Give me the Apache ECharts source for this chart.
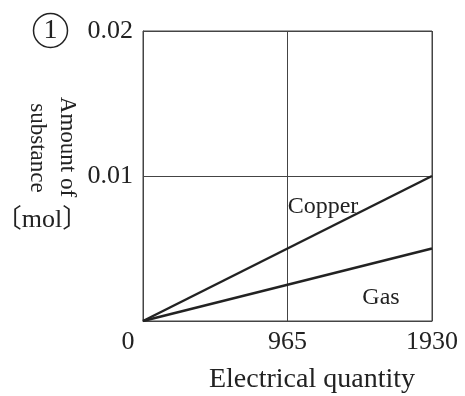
<!DOCTYPE html>
<html>
<head>
<meta charset="utf-8">
<script src="https://cdn.jsdelivr.net/npm/echarts@6/dist/echarts.min.js"></script>
<style>
html,body{margin:0;padding:0;background:#fff;}
#chart{width:465px;height:396px;}
</style>
</head>
<body>
<div id="chart"></div>
<script>
const xTicks = [0, 965, 1930];
const yTicks = [0, 0.01, 0.02];
const copperData = [[0, 0], [1930, 0.01]];
const gasData = [[0, 0], [1930, 0.005]];
const seriesNames = ['Copper', 'Gas'];

const FONT = "'Liberation Serif', 'Noto Sans CJK JP', serif";
const INK = '#222';

const chart = echarts.init(document.getElementById('chart'));
chart.setOption({
  animation: false,
  backgroundColor: '#fff',
  grid: { left: 143, right: 33, top: 31, bottom: 75, show: true, borderColor: '#444', borderWidth: 1 },
  xAxis: {
    type: 'value', min: xTicks[0], max: xTicks[2], interval: xTicks[1] - xTicks[0],
    axisLine: { show: true, lineStyle: { color: '#444', width: 1 } },
    axisTick: { show: false },
    splitLine: { show: true, lineStyle: { color: '#444', width: 1 } },
    axisLabel: { showMinLabel: false, margin: 8, fontFamily: FONT, fontSize: 26, color: INK,
      formatter: v => String(v) }
  },
  yAxis: {
    type: 'value', min: yTicks[0], max: yTicks[2], interval: yTicks[1] - yTicks[0],
    axisLine: { show: true, lineStyle: { color: '#444', width: 1 } },
    axisTick: { show: false },
    splitLine: { show: true, lineStyle: { color: '#444', width: 1 } },
    axisLabel: { showMinLabel: false, margin: 10, fontFamily: FONT, fontSize: 26, color: INK,
      formatter: v => v.toFixed(2) }
  },
  series: [
    { name: seriesNames[0], type: 'line', data: copperData, symbol: 'none',
      lineStyle: { color: INK, width: 2.5 } },
    { name: seriesNames[1], type: 'line', data: gasData, symbol: 'none',
      lineStyle: { color: INK, width: 2.5 } }
  ],
  graphic: [
    { type: 'circle', shape: { cx: 50.5, cy: 30.5, r: 17 }, style: { fill: 'none', stroke: INK, lineWidth: 1.5 } },
    { type: 'text', x: 50.5, y: 31, style: { text: '1', font: "28px " + FONT, fill: INK, textAlign: 'center', textVerticalAlign: 'middle' } },
    { type: 'text', x: 128, y: 342, style: { text: String(xTicks[0]), font: "26px " + FONT, fill: INK, textAlign: 'center', textVerticalAlign: 'middle' } },
    { type: 'text', x: 312, y: 380, style: { text: 'Electrical quantity', font: "28px " + FONT, fill: INK, textAlign: 'center', textVerticalAlign: 'middle' } },
    { type: 'text', x: 67, y: 147, rotation: -Math.PI / 2, style: { text: 'Amount of', font: "23px " + FONT, fill: INK, textAlign: 'center', textVerticalAlign: 'middle' } },
    { type: 'text', x: 37, y: 148, rotation: -Math.PI / 2, style: { text: 'substance', font: "23px " + FONT, fill: INK, textAlign: 'center', textVerticalAlign: 'middle' } },
    { type: 'text', x: 42, y: 220, style: { text: '〔mol〕', font: "26px " + FONT, fill: INK, textAlign: 'center', textVerticalAlign: 'middle' } },
    { type: 'text', x: 323, y: 207, style: { text: seriesNames[0], font: "24px " + FONT, fill: INK, textAlign: 'center', textVerticalAlign: 'middle' } },
    { type: 'text', x: 381, y: 298, style: { text: seriesNames[1], font: "24px " + FONT, fill: INK, textAlign: 'center', textVerticalAlign: 'middle' } }
  ]
});
</script>
</body>
</html>
